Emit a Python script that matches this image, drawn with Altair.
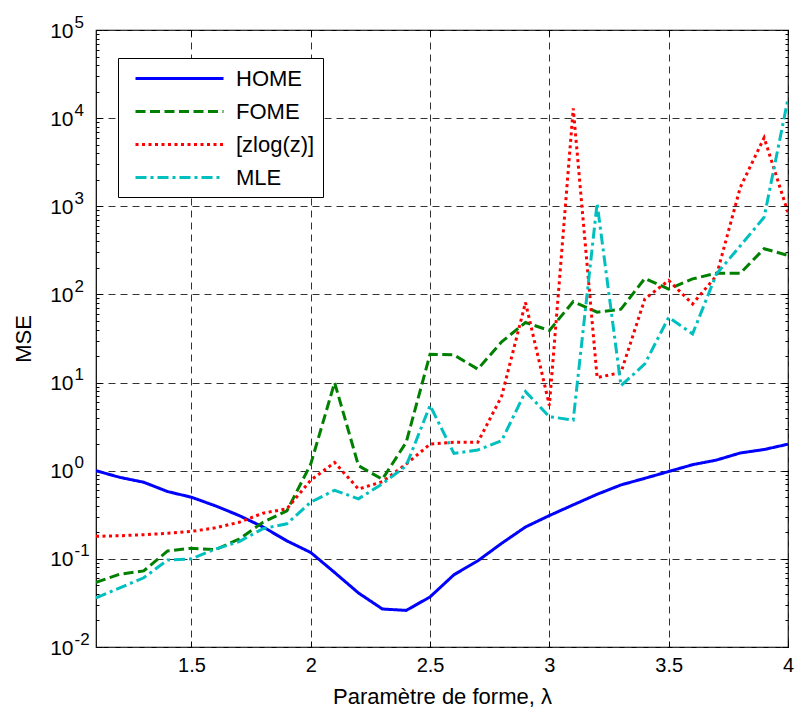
import altair as alt
import pandas as pd

lam = [1.1, 1.2, 1.3, 1.4, 1.5, 1.6, 1.7, 1.8, 1.9, 2.0,
       2.1, 2.2, 2.3, 2.4, 2.5, 2.6, 2.7, 2.8, 2.9, 3.0,
       3.1, 3.2, 3.3, 3.4, 3.5, 3.6, 3.7, 3.8, 3.9, 4.0]

home = [1.0, 0.84, 0.74, 0.58, 0.50, 0.40, 0.31, 0.23, 0.16, 0.118,
        0.07, 0.041, 0.027, 0.026, 0.037, 0.066, 0.095, 0.15, 0.23, 0.31,
        0.41, 0.54, 0.69, 0.82, 0.98, 1.17, 1.32, 1.59, 1.74, 2.0]

fome = [0.054, 0.067, 0.073, 0.123, 0.132, 0.127, 0.168, 0.26, 0.35, 1.19,
        10.0, 1.14, 0.80, 2.1, 21.0, 20.6, 14.2, 29.0, 48.0, 39.0,
        83.0, 63.0, 68.0, 152.0, 115.0, 150.0, 174.0, 174.0, 330.0, 277.0]

zlog = [0.18, 0.183, 0.188, 0.195, 0.205, 0.225, 0.26, 0.33, 0.37, 0.78,
        1.24, 0.62, 0.75, 1.19, 2.0, 2.1, 2.1, 7.0, 81.0, 5.5,
        12900.0, 11.4, 13.0, 89.0, 144.0, 78.0, 163.0, 1640.0, 6000.0, 850.0]

mle = [0.036, 0.047, 0.061, 0.097, 0.10, 0.129, 0.157, 0.22, 0.25, 0.44,
       0.60, 0.48, 0.71, 1.14, 5.5, 1.57, 1.72, 2.19, 7.9, 4.1,
       3.76, 1080.0, 9.2, 16.3, 55.0, 35.6, 170.0, 356.0, 750.0, 16600.0]

series_names = ["HOME", "FOME", "[zlog(z)]", "MLE"]
series_values = [home, fome, zlog, mle]
series_colors = ["#0000FF", "#008000", "#FF0000", "#00BFBF"]
series_dashes = [[1, 0], [10, 4.5], [3, 3.5], [11, 4, 3, 4]]

x_ticks = [1.5, 2.0, 2.5, 3.0, 3.5, 4.0]
y_major = [1e-2, 1e-1, 1e0, 1e1, 1e2, 1e3, 1e4, 1e5]
y_minor = [m * d for d in [1e-2, 1e-1, 1e0, 1e1, 1e2, 1e3, 1e4] for m in range(2, 10)]

rows = []
for name, vals in zip(series_names, series_values):
    for xv, yv in zip(lam, vals):
        rows.append({"lam": xv, "mse": yv, "serie": name})
df = pd.DataFrame(rows)

FONT = "Liberation Sans"
W, H = 692, 617

xscale = alt.Scale(domain=[1.1, 4.0], nice=False, zero=False)
yscale = alt.Scale(type="log", domain=[1e-2, 1e5], nice=False)

def legend_def():
    return alt.Legend(title=None, orient="none", legendX=22, legendY=28,
                      symbolType="M-4,0H4", symbolSize=484,
                      symbolStrokeWidth=3, symbolOffset=41,
                      symbolFillColor="transparent",
                      labelFont=FONT, labelFontSize=22,
                      labelColor="#000000", labelOffset=44,
                      labelExpr="datum.label + '\u2003\u2004'",
                      fillColor="#FFFFFF", strokeColor="#000000",
                      padding=8, rowPadding=9, labelLimit=400)

base = alt.Chart(df)

lines = base.mark_line(strokeWidth=3, strokeCap="butt", clip=True).encode(
    x=alt.X("lam:Q", scale=xscale,
            axis=alt.Axis(values=x_ticks, labelExpr="'' + datum.value",
                          grid=True, gridColor="#333333", gridDash=[7, 5], gridWidth=1,
                          ticks=False, tickSize=0, domain=False,
                          labelFont=FONT, labelFontSize=20, labelColor="#000000",
                          labelPadding=8, labelFlush=False,
                          title="Paramètre de forme, λ", titleFont=FONT, titleFontSize=22,
                          titleFontWeight="normal", titleColor="#000000",
                          titleBaseline="alphabetic", titleY=56)),
    y=alt.Y("mse:Q", scale=yscale,
            axis=alt.Axis(values=y_major, labelExpr="'10'", orient="left",
                          grid=True, gridColor="#333333", gridDash=[7, 5], gridWidth=1,
                          ticks=False, tickSize=0, domain=False,
                          labelFont=FONT, labelFontSize=21, labelColor="#000000",
                          labelPadding=23, labelAlign="right", labelBaseline="middle",
                          labelOffset=1, labelFlush=False,
                          title="MSE", titleFont=FONT, titleFontSize=22,
                          titleFontWeight="normal", titleColor="#000000",
                          titleBaseline="middle", titleX=-73)),
    color=alt.Color("serie:N", sort=series_names,
                    scale=alt.Scale(domain=series_names, range=series_colors),
                    legend=legend_def()),
    strokeDash=alt.StrokeDash("serie:N", sort=series_names,
                              scale=alt.Scale(domain=series_names, range=series_dashes),
                              legend=legend_def()),
    detail="serie:N",
)

ghost = base.mark_point(opacity=0, size=1)

exp_labels = ghost.encode(
    x=alt.X("lam:Q", scale=xscale, axis=None),
    y=alt.Y("mse:Q", scale=yscale,
            axis=alt.Axis(values=y_major, orient="left",
                          labelExpr="'' + round(log(datum.value) / LN10)",
                          grid=False, ticks=False, tickSize=0, domain=False,
                          labelFont=FONT, labelFontSize=17, labelColor="#000000",
                          labelPadding=22, labelAlign="left", labelBaseline="middle",
                          labelOffset=-8, labelFlush=False, title=None)),
)

def tick_axis(values, size, orient):
    return alt.Axis(values=values, orient=orient, offset=-size, tickSize=size,
                    ticks=True, tickColor="#000000", tickWidth=1,
                    labels=False, grid=False, domain=False, title=None)

ticks_a = ghost.encode(
    x=alt.X("lam:Q", scale=xscale, axis=tick_axis(x_ticks, 6, "bottom")),
    y=alt.Y("mse:Q", scale=yscale, axis=tick_axis(y_major, 6, "left")),
)
ticks_b = ghost.encode(
    x=alt.X("lam:Q", scale=xscale, axis=tick_axis(x_ticks, 6, "top")),
    y=alt.Y("mse:Q", scale=yscale, axis=tick_axis(y_major, 6, "right")),
)
ticks_c = ghost.encode(
    x=alt.X("lam:Q", scale=xscale, axis=None),
    y=alt.Y("mse:Q", scale=yscale, axis=tick_axis(y_minor, 3, "left")),
)
ticks_d = ghost.encode(
    x=alt.X("lam:Q", scale=xscale, axis=None),
    y=alt.Y("mse:Q", scale=yscale, axis=tick_axis(y_minor, 3, "right")),
)

chart = alt.layer(lines, exp_labels, ticks_a, ticks_b, ticks_c, ticks_d).resolve_axis(
    x="independent", y="independent"
).properties(
    width=W, height=H,
    autosize=alt.AutoSizeParams(type="none"),
    padding={"left": 96, "top": 30, "right": 8, "bottom": 64},
    background="#FFFFFF",
).configure_view(
    stroke="#000000", strokeWidth=1.2
)

chart.save("out.html", embed_options={"renderer": "svg", "actions": False})
